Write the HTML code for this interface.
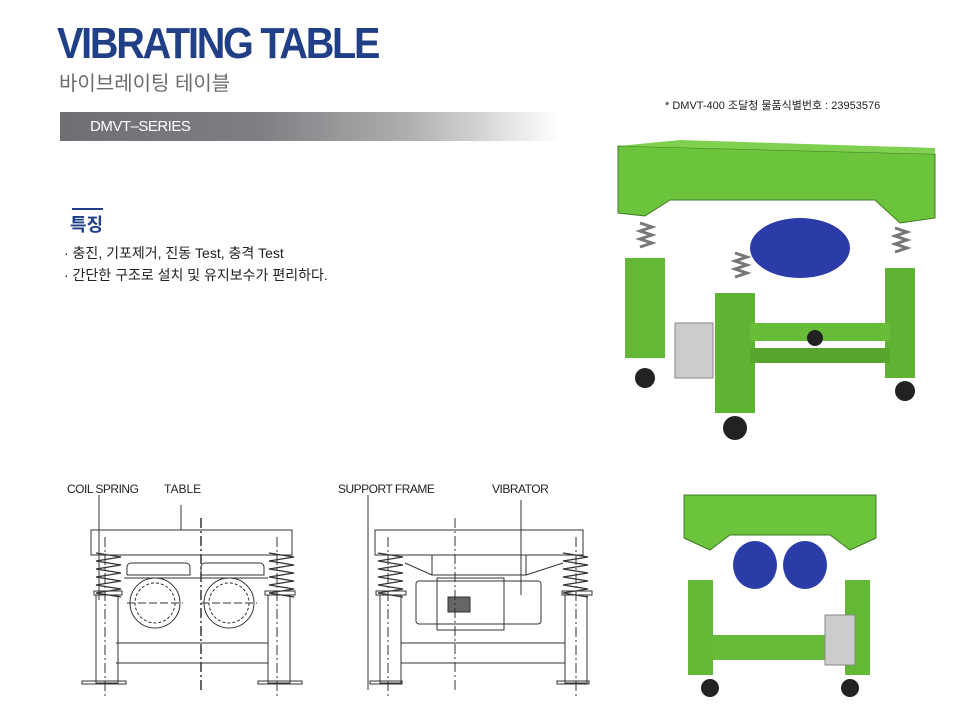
<!DOCTYPE html>
<html><head><meta charset="utf-8"><style>
body{margin:0;width:954px;height:718px;background:#fff;position:relative;overflow:hidden;font-family:"Liberation Sans","Noto Sans CJK KR",sans-serif}
.a{position:absolute;white-space:nowrap}
</style></head><body>
<div class="a" style="left:57px;top:19px;font-size:44px;font-weight:bold;color:#213f86;letter-spacing:-2.5px;transform:scaleX(0.9);transform-origin:left">VIBRATING TABLE</div>
<div class="a" style="left:59px;top:67px;font-size:20px;color:#6b6a6e">바이브레이팅 테이블</div>
<div class="a" style="left:60px;top:112px;width:500px;height:29px;background:linear-gradient(90deg,#6f6e72 0%,#807e82 40%,#b0aeb0 70%,#fff 100%)"></div>
<div class="a" style="left:90px;top:118px;font-size:15px;color:#fff;letter-spacing:-0.5px">DMVT–SERIES</div>
<div class="a" style="left:72px;top:208px;width:31px;height:2px;background:#213f86"></div>
<div class="a" style="left:70px;top:211px;font-size:18px;font-weight:bold;color:#213f86">특징</div>
<div class="a" style="left:64px;top:243px;font-size:14px;color:#222">· 충진, 기포제거, 진동 Test, 충격 Test</div>
<div class="a" style="left:64px;top:265px;font-size:14px;color:#222">· 간단한 구조로 설치 및 유지보수가 편리하다.</div>
<div class="a" style="left:665px;top:97px;font-size:11px;color:#222">* DMVT-400 조달청 물품식별번호 : 23953576</div>
<div class="a" style="left:67px;top:482px;font-size:12px;color:#222;letter-spacing:-0.5px">COIL SPRING</div>
<div class="a" style="left:164px;top:482px;font-size:12px;color:#222">TABLE</div>
<div class="a" style="left:338px;top:482px;font-size:12px;color:#222;letter-spacing:-0.5px">SUPPORT FRAME</div>
<div class="a" style="left:492px;top:482px;font-size:12px;color:#222;letter-spacing:-0.5px">VIBRATOR</div>
<svg class="a" style="left:0;top:0" width="954" height="718" fill="none" stroke="#333" stroke-width="1">
<rect x="91" y="530" width="201" height="25"/>
<line x1="181" y1="505" x2="181" y2="530"/>
<line x1="99" y1="495" x2="99" y2="600"/>
<g stroke-width="1.2">
<path d="M96 553 l25 4 -25 4 25 4 -25 4 25 4 -25 4 25 4 -25 4 25 4 -25 4 25 4"/>
<path d="M269 553 l25 4 -25 4 25 4 -25 4 25 4 -25 4 25 4 -25 4 25 4 -25 4 25 4"/>
</g>
<rect x="94" y="591" width="28" height="4"/><rect x="265" y="591" width="30" height="4"/>
<rect x="96" y="595" width="22" height="88"/><rect x="268" y="595" width="22" height="88"/>
<line x1="116" y1="643" x2="268" y2="643"/><line x1="116" y1="663" x2="268" y2="663"/>
<rect x="82" y="681" width="44" height="3"/><rect x="258" y="681" width="44" height="3"/>
<path d="M127 575 v-8 a4 4 0 0 1 4-4 h55 a4 4 0 0 1 4 4 v8 h-63"/>
<path d="M201 575 v-8 a4 4 0 0 1 4-4 h55 a4 4 0 0 1 4 4 v8 h-63"/>
<line x1="124" y1="578" x2="268" y2="578"/>
<circle cx="155" cy="603" r="25"/><circle cx="155" cy="603" r="20" stroke-dasharray="3 2"/>
<circle cx="229" cy="603" r="25"/><circle cx="229" cy="603" r="20" stroke-dasharray="3 2"/>
<line x1="127" y1="603" x2="183" y2="603" stroke-dasharray="8 3"/>
<line x1="201" y1="603" x2="257" y2="603" stroke-dasharray="8 3"/>
<line x1="201" y1="518" x2="201" y2="690" stroke-dasharray="10 3 2 3" stroke-width="1.5"/>
<line x1="105" y1="537" x2="105" y2="697" stroke-dasharray="10 3 2 3"/>
<line x1="277" y1="537" x2="277" y2="697" stroke-dasharray="10 3 2 3"/>
<rect x="375" y="530" width="208" height="25"/>
<line x1="368" y1="495" x2="368" y2="690"/>
<line x1="521" y1="500" x2="521" y2="595"/>
<g stroke-width="1.2">
<path d="M378 553 l25 4 -25 4 25 4 -25 4 25 4 -25 4 25 4 -25 4 25 4 -25 4 25 4"/>
<path d="M563 553 l25 4 -25 4 25 4 -25 4 25 4 -25 4 25 4 -25 4 25 4 -25 4 25 4"/>
</g>
<rect x="376" y="591" width="30" height="4"/><rect x="562" y="591" width="30" height="4"/>
<rect x="380" y="595" width="21" height="88"/><rect x="565" y="595" width="22" height="88"/>
<line x1="401" y1="643" x2="565" y2="643"/><line x1="401" y1="663" x2="565" y2="663"/>
<rect x="370" y="681" width="32" height="3"/><rect x="557" y="681" width="32" height="3"/>
<rect x="432" y="555" width="94" height="20"/>
<line x1="405" y1="563" x2="432" y2="575"/><line x1="526" y1="575" x2="563" y2="563"/>
<rect x="416" y="581" width="125" height="43" rx="3"/>
<rect x="437" y="578" width="67" height="52"/>
<rect x="448" y="597" width="22" height="15" fill="#666"/>
<line x1="455" y1="518" x2="455" y2="690" stroke-dasharray="10 3 2 3"/>
<line x1="388" y1="537" x2="388" y2="697" stroke-dasharray="10 3 2 3"/>
<line x1="576" y1="537" x2="576" y2="697" stroke-dasharray="10 3 2 3"/>
</svg>
<svg class="a" style="left:600px;top:138px" width="345" height="310">
<path d="M18 8 L335 16 L335 80 L300 85 L275 62 L70 62 L45 78 L18 75Z" fill="#6cc43c" stroke="#3d7a22"/>
<path d="M18 8 L80 2 L335 10 L335 16Z" fill="#7fd04f"/>
<ellipse cx="200" cy="110" rx="50" ry="30" fill="#2b3ca8"/>
<rect x="25" y="120" width="40" height="100" fill="#63b935"/>
<rect x="115" y="155" width="40" height="120" fill="#5fb332"/>
<rect x="285" y="130" width="30" height="110" fill="#5fb332"/>
<rect x="150" y="185" width="140" height="18" fill="#68bd38"/>
<rect x="150" y="210" width="140" height="15" fill="#58a52d"/>
<rect x="75" y="185" width="38" height="55" fill="#ccc" stroke="#888"/>
<g fill="#222"><circle cx="45" cy="240" r="10"/><circle cx="135" cy="290" r="12"/><circle cx="305" cy="253" r="10"/><circle cx="215" cy="200" r="8"/></g>
<g stroke="#777" stroke-width="3" fill="none"><path d="M40 85 l12 4 -12 4 12 4 -12 4 12 4 -12 4"/><path d="M295 90 l12 4 -12 4 12 4 -12 4 12 4 -12 4"/><path d="M135 115 l12 4 -12 4 12 4 -12 4 12 4 -12 4"/></g>
</svg>
<svg class="a" style="left:680px;top:490px" width="200" height="215">
<path d="M4 5 L196 5 L196 48 L170 60 L150 45 L50 45 L30 60 L4 48Z" fill="#6cc43c" stroke="#3d7a22"/>
<ellipse cx="75" cy="75" rx="22" ry="24" fill="#2b3ca8"/>
<ellipse cx="125" cy="75" rx="22" ry="24" fill="#2b3ca8"/>
<rect x="8" y="90" width="25" height="95" fill="#63b935"/>
<rect x="165" y="90" width="25" height="95" fill="#63b935"/>
<rect x="33" y="145" width="135" height="25" fill="#66bb38"/>
<rect x="145" y="125" width="30" height="50" fill="#ccc" stroke="#888"/>
<g fill="#222"><circle cx="30" cy="198" r="9"/><circle cx="170" cy="198" r="9"/></g>
</svg>
</body></html>
